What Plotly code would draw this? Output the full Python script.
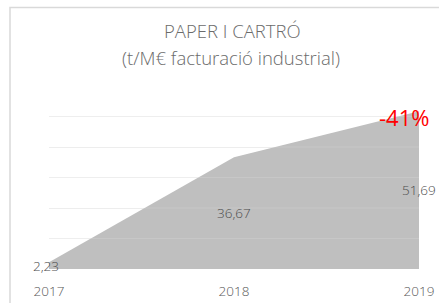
import plotly.graph_objects as go

years = [2017, 2018, 2019]
values = [2.23, 36.67, 51.69]
labels = ["2,23", "36,67", "51,69"]
tick_labels = ["2017", "2018", "2019"]
grid_values = [10, 20, 30, 40, 50, 60]
change_label = "-41%"
title_lines = ["PAPER I CARTRÓ", "(t/M€ facturació industrial)"]

W, H = 439, 303
L, R, T, B = 49, 20, 86, 34
pw, ph = W - L - R, H - T - B


def px(xp):  # page x -> paper
    return (xp - L) / pw


def py(yp):  # page y -> paper
    return (H - B - yp) / ph


font_family = "Open Sans, Liberation Sans, Arial, sans-serif"

fig = go.Figure()
fig.add_trace(go.Scatter(
    x=years, y=values, mode="lines", fill="tozeroy",
    line=dict(width=0, color="#bfbfbf"), fillcolor="#bfbfbf",
    hoverinfo="skip", showlegend=False,
))

for g in grid_values:
    fig.add_shape(type="line", xref="paper", yref="y", x0=0, x1=1, y0=g, y1=g,
                  line=dict(color="rgba(255,255,255,0.13)", width=1), layer="above")

for x, v, t in zip(years, values, labels):
    fig.add_annotation(x=x, y=v / 2, text=t, showarrow=False,
                       xanchor="center", yanchor="middle", xshift=(-3 if x == years[0] else 0),
                       font=dict(family=font_family, size=13.5, color="#4d4d4d", weight=300))

fig.add_annotation(x=years[-1], y=values[-1], text=change_label, showarrow=False,
                   xanchor="center", yanchor="middle", xshift=-15, yshift=-6,
                   font=dict(family=font_family, size=22, color="#ff0000"))

fig.add_annotation(xref="paper", yref="paper", x=px(232), y=py(30),
                   text=title_lines[0], showarrow=False, xanchor="center", yanchor="middle",
                   font=dict(family=font_family, size=18.5, color="#6b6b6b", weight=300))
fig.add_annotation(xref="paper", yref="paper", x=px(231), y=py(57),
                   text=title_lines[1], showarrow=False, xanchor="center", yanchor="middle",
                   font=dict(family=font_family, size=18.5, color="#6b6b6b", weight=300))

fig.add_shape(type="rect", xref="paper", yref="paper",
              x0=px(10), x1=px(470), y0=py(330), y1=py(7.5),
              line=dict(color="#d9d9d9", width=1.5), fillcolor="rgba(0,0,0,0)", layer="below")

fig.update_layout(
    width=W, height=H,
    margin=dict(l=L, r=R, t=T, b=B),
    paper_bgcolor="white", plot_bgcolor="white",
    showlegend=False,
    xaxis=dict(range=[2017, 2019], tickmode="array", tickvals=years, ticktext=tick_labels,
               showgrid=False, zeroline=False, showline=False, ticks="",
               ticklabelstandoff=12, automargin=False,
               tickfont=dict(family=font_family, size=13.5, color="#595959", weight=300)),
    yaxis=dict(range=[0, 60], tickmode="array", tickvals=grid_values, showgrid=True,
               gridcolor="#ececec", gridwidth=1, automargin=False,
               zeroline=False, showticklabels=False, showline=False, ticks=""),
)
fig.write_html("out.html", config={"displayModeBar": False},
               post_script="document.body.style.margin='0';document.body.style.overflow='hidden';")
